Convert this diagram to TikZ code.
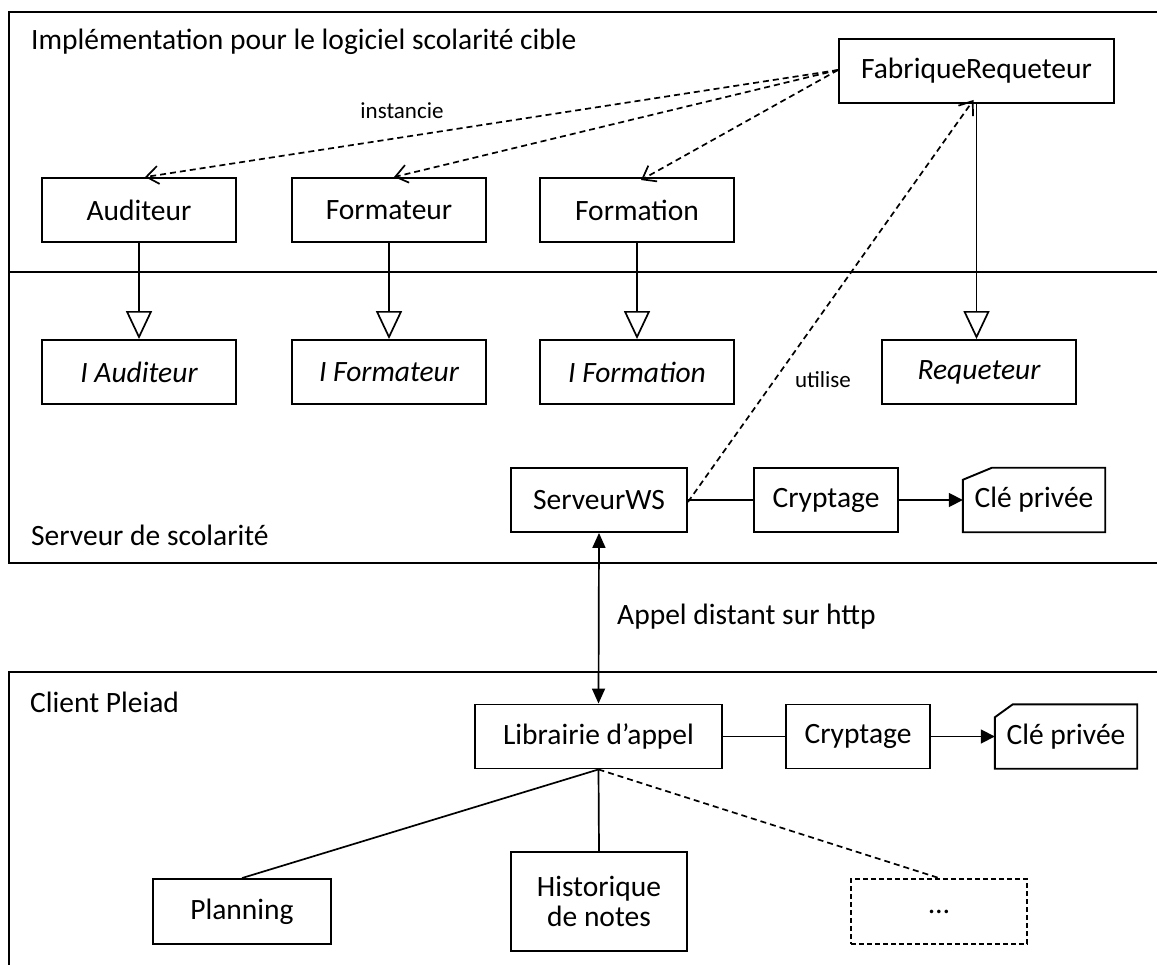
\documentclass[tikz,border=0pt]{standalone}
\usepackage{fontspec}
\setmainfont{Carlito}
\usetikzlibrary{arrows.meta}
\begin{document}
\begin{tikzpicture}[x=1pt,y=-1pt,
  frame/.style={line width=2pt},
  box/.style={draw, line width=1.9pt, minimum height=64pt, inner sep=0pt, align=center, font=\fontsize{29.5}{34}\selectfont},
  ibox/.style={box, font=\fontsize{29.5}{34}\selectfont\itshape},
  keybox/.style={minimum height=64pt, minimum width=142pt, inner sep=0pt, font=\fontsize{29.5}{34}\selectfont},
  lbl/.style={font=\fontsize{29.5}{34}\selectfont, inner sep=0pt},
  small/.style={font=\fontsize{23}{27}\selectfont, inner sep=0pt},
  conn/.style={line width=1.7pt},
  dep/.style={conn, dash pattern=on 6pt off 4pt, -{Straight Barb[length=12pt,width=18pt,line width=1.7pt]}},
  inh/.style={conn, -{Triangle[open, length=28pt, width=26pt, line width=1.7pt, fill=white]}},
  solidarrow/.style={conn, -{Triangle[length=14pt, width=14pt]}},
  bothways/.style={conn, {Triangle[length=15pt, width=13pt]}-{Triangle[length=15pt, width=13pt]}}
]
\useasboundingbox (0,0) rectangle (1157,965);

% frames
\draw[frame] (1157,12) -- (9,12) -- (9,563) -- (1157,563);
\draw[frame] (9,272) -- (1157,272);
\draw[frame] (1157,672) -- (9,672) -- (9,965);

% frame labels
\node[lbl, anchor=west] (ttop) at (31,42) {Implémentation pour le logiciel scolarité cible};
\node[lbl, anchor=west] (tsrv) at (31,535) {Serveur de scolarité};
\node[lbl, anchor=west] (tcli) at (30,702) {Client Pleiad};

% top nodes
\node[box, minimum width=275pt] (fab) at (976.5,71) {FabriqueRequeteur};
\node[box, minimum width=194pt] (aud) at (139,210) {Auditeur};
\node[box, minimum width=194pt] (fmt) at (389,210) {Formateur};
\node[box, minimum width=194pt] (fmn) at (637,210) {Formation};

% interfaces
\node[ibox, minimum width=194pt] (iaud) at (139,372) {I Auditeur};
\node[ibox, minimum width=194pt] (ifmt) at (389,372) {I Formateur};
\node[ibox, minimum width=194pt] (ifmn) at (637,372) {I Formation};
\node[ibox, minimum width=194pt] (req) at (979,372) {Requeteur};

% server row
\node[box, minimum width=176pt] (ws) at (599,500) {ServeurWS};
\node[box, minimum width=144pt] (cry) at (826,500) {Cryptage};
\node[keybox] (cle) at (1034,500) {\raisebox{-5pt}{Clé privée}};
\draw[line width=1.9pt] (cle.south west) -- (cle.south east) -- (cle.north east) -- ([xshift=29pt]cle.north west) -- ([yshift=-12pt]cle.north west) -- cycle;

% client row
\node[box, minimum width=247pt] (lib) at (598.5,736.5) {Librairie d’appel};
\node[box, minimum width=144pt] (cry2) at (858,736.5) {Cryptage};
\node[keybox] (cle2) at (1066,736.5) {\raisebox{-5pt}{Clé privée}};
\draw[line width=1.9pt] (cle2.south west) -- (cle2.south east) -- (cle2.north east) -- ([xshift=18pt]cle2.north west) -- ([yshift=-13pt]cle2.north west) -- cycle;

\node[box, minimum width=178pt, minimum height=65pt] (plan) at (242,911.5) {Planning};
\node[box, minimum width=176pt, minimum height=99pt] (hist) at (599,901.5) {Historique\\[-4pt]de notes};
\node[box, minimum width=176pt, minimum height=65pt, dash pattern=on 5pt off 3pt] (dots) at (939,911.5) {…};

% instancie
\draw[dep] ([yshift=1pt]fab.west) -- ([xshift=6pt]aud.north);
\draw[dep] ([yshift=1pt]fab.west) -- ([xshift=5pt]fmt.north);
\draw[dep] ([yshift=1pt]fab.west) -- ([xshift=4pt,yshift=-3pt]fmn.north);
\node[small] (linst) at (402,111) {instancie};

% utilise
\draw[dep] ([yshift=-2pt]ws.east) -- ([xshift=-3pt,yshift=4pt]fab.south);
\node[small] (luti) at (823,380) {utilise};

% inheritance
\draw[inh] (aud.south) -- (iaud.north);
\draw[inh] (fmt.south) -- (ifmt.north);
\draw[inh] (fmn.south) -- (ifmn.north);
\draw[inh] (fab.south) -- (fab.south |- req.north);

% crypto
\draw[conn] (ws.east) -- (cry.west);
\draw[solidarrow] (cry.east) -- (cle.west);
\draw[conn] (lib.east) -- (cry2.west);
\draw[solidarrow] (cry2.east) -- (cle2.west);

% remote call
\draw[bothways] (ws.south) -- (lib.north);
\node[lbl, anchor=west] (lhttp) at (617,617) {Appel distant sur http};

% client links
\draw[conn] (lib.south) -- (plan.north);
\draw[conn] (lib.south) -- (hist.north);
\draw[conn, dash pattern=on 6pt off 4pt] (lib.south) -- (dots.north);
\end{tikzpicture}
\end{document}
